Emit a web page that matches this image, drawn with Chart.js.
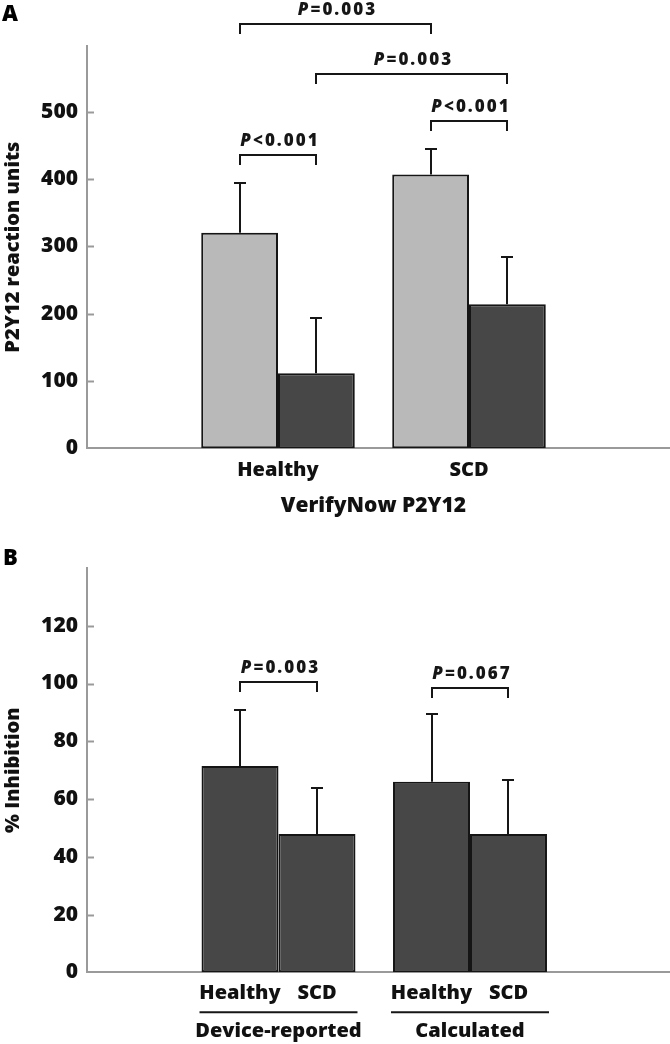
<!DOCTYPE html>
<html><head><meta charset="utf-8">
<script src="https://cdn.jsdelivr.net/npm/chart.js@4.4.1/dist/chart.umd.min.js"></script>
<style>
html,body{margin:0;padding:0;background:#fff;}
#wrap{position:relative;width:670px;height:1044px;background:#fff;}
.box{position:absolute;left:0;width:670px;height:522px;}
canvas{display:block;}
</style></head><body>
<div id="wrap">
<div class="box" style="top:0"><canvas id="c1" width="670" height="522"></canvas></div>
<div class="box" style="top:522px"><canvas id="c2" width="670" height="522"></canvas></div>
</div>
<script>
// ---------- Panel A: VerifyNow P2Y12 reaction units ----------
const groupsA = ['Healthy', 'SCD'];
const baselineA = [320.5, 407];
const baselineAErr = [395, 445];
const treatedA = [111.5, 214];
const treatedAErr = [193, 284.5];
const yTicksA = [0, 100, 200, 300, 400, 500];
const yMaxA = 598;
// comparisons: [datasetFrom, groupFrom, datasetTo, groupTo, level, label]
const compA = [
  [0, 0, 0, 1, 631, 'P=0.003'],
  [1, 0, 1, 1, 556, 'P=0.003'],
  [0, 1, 1, 1, 486.5, 'P<0.001'],
  [0, 0, 1, 0, 435.5, 'P<0.001']
];

// ---------- Panel B: % Inhibition ----------
const groupsB = ['Device-reported', 'Calculated'];
const subLabelsB = ['Healthy', 'SCD'];
const healthyB = [71.4, 66.0];
const healthyBErr = [91, 89.4];
const scdB = [47.9, 47.9];
const scdBErr = [63.9, 66.6];
const yTicksB = [0, 20, 40, 60, 80, 100, 120];
const yMaxB = 140;
const compB = [
  [0, 0, 1, 0, 100.5, 'P=0.003'],
  [0, 1, 1, 1, 98.4, 'P=0.067']
];

const FONT = '"Open Sans", "DejaVu Sans", sans-serif';
const W = '800';
const LIGHT = '#b9b9b9';
const DARK = '#474747';
const AXIS = '#9a9a9a';
const INK = '#161616';

function pad(arr) { return [null, ...arr, null]; }

function drawP(ctx, label, cx, cy) {
  const rest = label.slice(1);
  ctx.save();
  ctx.letterSpacing = '2px';
  ctx.font = 'italic ' + W + ' 17px ' + FONT;
  const wp = ctx.measureText('P').width;
  ctx.font = W + ' 17px ' + FONT;
  const wr = ctx.measureText(rest).width;
  const x0 = cx - (wp + wr) / 2 + 2;
  ctx.fillStyle = INK;
  ctx.textBaseline = 'middle';
  ctx.textAlign = 'left';
  ctx.font = 'italic ' + W + ' 17px ' + FONT;
  ctx.fillText('P', x0, cy);
  ctx.font = W + ' 17px ' + FONT;
  ctx.fillText(rest, x0 + wp, cy);
  ctx.restore();
}

const panelPlugin = {
  id: 'panelExtras',
  afterDraw(chart, args, opts) {
    const ctx = chart.ctx;
    const ys = chart.scales.y;
    const ca = chart.chartArea;
    ctx.save();
    // extend x axis line to the right edge (same aligned position as the border)
    const yb = Math.round(ca.bottom - 1) + 1;
    ctx.strokeStyle = AXIS; ctx.lineWidth = 2; ctx.lineCap = 'butt';
    ctx.beginPath(); ctx.moveTo(ca.right, yb); ctx.lineTo(chart.width, yb); ctx.stroke();
    // inward tick marks on y axis
    ys.ticks.forEach(t => {
      const y = Math.round(ys.getPixelForValue(t.value)) + 0.5;
      if (t.value === 0) return;
      ctx.beginPath(); ctx.moveTo(ca.left, y); ctx.lineTo(ca.left + 7, y); ctx.stroke();
    });
    // error bars (upper only)
    ctx.strokeStyle = INK; ctx.lineWidth = 2;
    chart.data.datasets.forEach((ds, d) => {
      const meta = chart.getDatasetMeta(d);
      meta.data.forEach((el, i) => {
        const v = ds.data[i];
        if (v == null) return;
        const e = ds.errors[i];
        const ye = Math.round(ys.getPixelForValue(e));
        const x = Math.round(el.x);
        ctx.beginPath(); ctx.moveTo(x, el.y); ctx.lineTo(x, ye); ctx.stroke();
        ctx.beginPath(); ctx.moveTo(x - 6, ye); ctx.lineTo(x + 6, ye); ctx.stroke();
      });
    });
    // comparison brackets
    (opts.comps || []).forEach(c => {
      const [d1, g1, d2, g2, lvl, label] = c;
      const x1 = Math.round(chart.getDatasetMeta(d1).data[g1 + 1].x);
      const x2 = Math.round(chart.getDatasetMeta(d2).data[g2 + 1].x);
      const y = Math.round(ys.getPixelForValue(lvl));
      ctx.strokeStyle = INK; ctx.lineWidth = 2;
      ctx.beginPath(); ctx.moveTo(x1, y + 10); ctx.lineTo(x1, y); ctx.lineTo(x2, y); ctx.lineTo(x2, y + 10); ctx.stroke();
      drawP(ctx, label, (x1 + x2) / 2, y - 14);
    });
    // panel letter
    ctx.fillStyle = '#000';
    ctx.font = W + ' 22px ' + FONT;
    ctx.textAlign = 'left'; ctx.textBaseline = 'middle';
    ctx.fillText(opts.letter, opts.letterX, opts.letterY);
    // sub labels for grouped x axis (panel B)
    if (opts.subLabels) {
      ctx.font = W + ' 20px ' + FONT;
      ctx.fillStyle = '#111';
      ctx.textAlign = 'center';
      opts.groups.forEach((g, gi) => {
        const xs = chart.data.datasets.map((ds, d) => chart.getDatasetMeta(d).data[gi + 1]);
        xs.forEach((el, d) => {
          ctx.fillText(opts.subLabels[d], el.x, ca.bottom + 21);
        });
        const left = xs[0].x - xs[0].width / 2 - 2;
        const right = xs[xs.length - 1].x + xs[xs.length - 1].width / 2 + 2;
        ctx.strokeStyle = INK; ctx.lineWidth = 2;
        ctx.beginPath(); ctx.moveTo(left, ca.bottom + 40); ctx.lineTo(right, ca.bottom + 40); ctx.stroke();
        ctx.fillText(g, (left + right) / 2, ca.bottom + 59);
      });
    }
    ctx.restore();
  }
};

function makeChart(id, cfg) {
  return new Chart(document.getElementById(id), {
    type: 'bar',
    data: {
      labels: ['', ...cfg.groups, ''],
      datasets: cfg.datasets.map(ds => ({
        data: pad(ds.values),
        errors: pad(ds.errors),
        backgroundColor: ds.color,
        borderColor: '#151515',
        borderWidth: 2,
        borderSkipped: false,
        categoryPercentage: 0.804,
        barPercentage: 1.0
      }))
    },
    options: {
      responsive: false,
      animation: false,
      devicePixelRatio: 1,
      layout: { padding: { top: 46, right: 8.5, left: 0, bottom: 0 } },
      plugins: {
        legend: { display: false },
        tooltip: { enabled: false },
        panelExtras: cfg.extras
      },
      scales: {
        x: {
          offset: false,
          grid: { display: false, drawTicks: false },
          border: { display: true, color: AXIS, width: 2 },
          ticks: {
            display: cfg.showXTicks,
            color: '#111',
            padding: 10,
            maxRotation: 0,
            autoSkip: false,
            font: { family: FONT, size: 20, weight: W }
          },
          title: cfg.xTitle ? {
            display: true, text: cfg.xTitle, color: '#111',
            padding: { top: 0, bottom: 3 },
            font: { family: FONT, size: 21, weight: W }
          } : { display: false },
          afterFit: s => { s.height = cfg.xHeight; }
        },
        y: {
          min: 0,
          max: cfg.yMax,
          grid: { display: false, drawTicks: false },
          border: { display: true, color: AXIS, width: 2 },
          afterBuildTicks: s => { s.ticks = cfg.yTicks.map(v => ({ value: v })); },
          ticks: {
            color: '#111',
            padding: 9,
            font: { family: FONT, size: 21, weight: W }
          },
          title: {
            display: true, text: cfg.yTitle, color: '#111',
            padding: { top: 1, bottom: 0 },
            font: { family: FONT, size: 20, weight: W }
          },
          afterFit: s => { s.width = 87; }
        }
      }
    },
    plugins: [panelPlugin]
  });
}

makeChart('c1', {
  groups: groupsA,
  datasets: [
    { values: baselineA, errors: baselineAErr, color: LIGHT },
    { values: treatedA, errors: treatedAErr, color: DARK }
  ],
  yMax: yMaxA, yTicks: yTicksA,
  yTitle: 'P2Y12 reaction units',
  xTitle: 'VerifyNow P2Y12',
  showXTicks: true,
  xHeight: 73.7,
  extras: { comps: compA, letter: 'A', letterX: 2, letterY: 15 }
});

makeChart('c2', {
  groups: groupsB,
  datasets: [
    { values: healthyB, errors: healthyBErr, color: DARK },
    { values: scdB, errors: scdBErr, color: DARK }
  ],
  yMax: yMaxB, yTicks: yTicksB,
  yTitle: '% Inhibition',
  xTitle: null,
  showXTicks: false,
  xHeight: 71.7,
  extras: { comps: compB, letter: 'B', letterX: 3, letterY: 37, subLabels: subLabelsB, groups: groupsB }
});
</script>
</body></html>
